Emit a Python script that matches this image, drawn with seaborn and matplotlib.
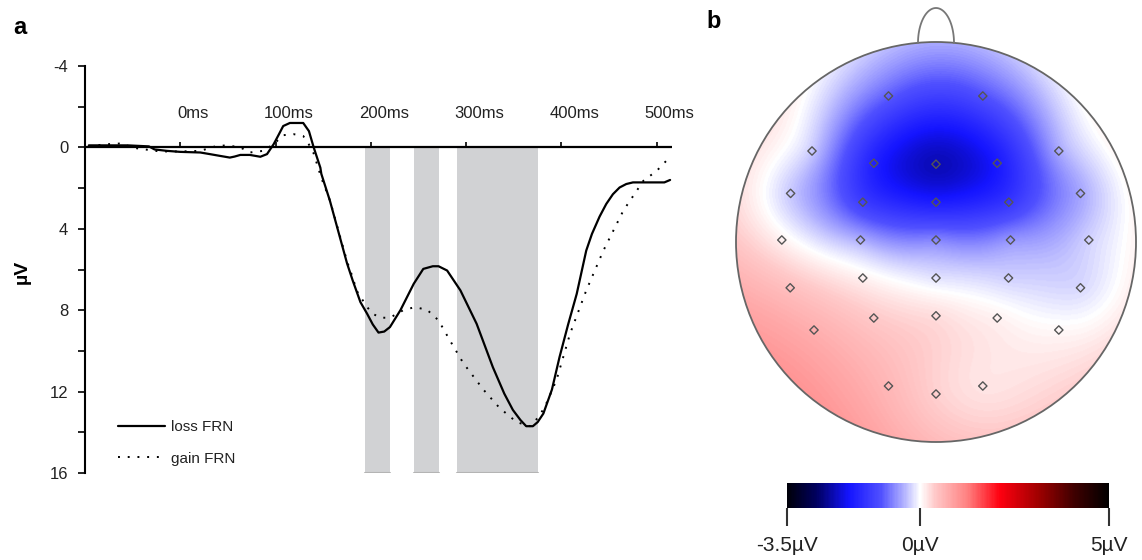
import numpy as np
import pandas as pd
import matplotlib
matplotlib.use("Agg")
import matplotlib.pyplot as plt
import seaborn as sns
from matplotlib.colors import LinearSegmentedColormap, Normalize
from matplotlib.patches import Circle
from matplotlib.lines import Line2D
import matplotlib.cm as cm

# ---------------- data ----------------
loss_time = [-96, -55, -33, -27, -14, 0, 21, 31, 42, 52, 57, 63, 73, 84, 91, 98, 103, 108, 115,
             129, 135, 140, 147, 148, 157, 175, 181, 189, 196, 202, 208, 214, 220, 231, 245, 255,
             265, 271, 280, 294, 311, 328, 340, 349, 357, 363, 370, 375, 381, 390, 398, 407, 416,
             426, 432, 440, 447, 454, 461, 468, 475, 508, 514]
loss_amp = [-0.1, -0.1, -0.05, 0.1, 0.17, 0.22, 0.25, 0.33, 0.42, 0.5, 0.45, 0.37, 0.37, 0.46,
            0.33, -0.16, -0.6, -1.05, -1.2, -1.2, -0.8, 0.0, 1.0, 1.3, 2.62, 5.7, 6.55, 7.6, 8.17,
            8.7, 9.1, 9.05, 8.83, 8.0, 6.7, 5.97, 5.84, 5.84, 6.05, 7.03, 8.67, 10.8, 12.1, 12.9,
            13.4, 13.7, 13.7, 13.5, 13.08, 11.9, 10.3, 8.7, 7.2, 5.07, 4.25, 3.4, 2.78, 2.3, 1.97,
            1.8, 1.72, 1.72, 1.6]
gain_time = [-96, -79, -60, -52, -37, -21, 0, 21, 38, 49, 63, 73, 87, 98, 108, 119, 129, 136,
             140, 148, 157, 175, 181, 185, 196, 203, 210, 220, 234, 246, 259, 271, 283, 297, 318,
             335, 353, 367, 377, 385, 395, 409, 426, 444, 465, 486, 500, 510]
gain_amp = [-0.05, -0.15, -0.2, 0.0, 0.1, 0.2, 0.2, 0.17, -0.07, -0.1, 0.0, 0.25, 0.17, -0.16,
            -0.6, -0.65, -0.56, -0.07, 0.3, 1.5, 2.6, 5.6, 6.4, 7.03, 7.85, 8.2, 8.37, 8.37, 8.0,
            7.85, 7.98, 8.5, 9.49, 10.6, 11.9, 12.8, 13.5, 13.7, 13.2, 12.5, 11.4, 9.16, 7.03,
            5.07, 3.1, 1.64, 1.15, 0.66]
conditions = ["loss FRN", "gain FRN"]
window_start = [194, 245, 290]
window_end = [220, 271, 375]
time_ticks = [0, 100, 200, 300, 400, 500]
time_labels = ["0ms", "100ms", "200ms", "300ms", "400ms", "500ms"]
amp_ticks = [-4, 0, 4, 8, 12, 16]
amp_minor = [-2, 2, 6, 10, 14]

# electrode layout (unit head radius) and scalp values (µV)
elec_x = [-0.2375, 0.234, -0.62, -0.311, 0.0, 0.306, 0.614, -0.727, -0.366, 0.0, 0.364, 0.7225,
          -0.771, -0.3775, 0.0, 0.3725, 0.764, -0.729, -0.366, 0.0, 0.3625, 0.7225,
          -0.61, -0.311, 0.0, 0.306, 0.614, -0.2375, 0.0, 0.234]
elec_y = [0.73, 0.73, 0.455, 0.394, 0.389, 0.394, 0.455, 0.243, 0.199, 0.199, 0.199, 0.243,
          0.01, 0.01, 0.01, 0.01, 0.01, -0.229, -0.18, -0.18, -0.18, -0.229,
          -0.44, -0.38, -0.369, -0.38, -0.44, -0.72, -0.76, -0.72]
elec_val = [-0.95, -1.05, -0.3, -1.7, -2.25, -1.8, -0.5, -0.3, -1.3, -1.75, -1.4, -0.5,
            0.1, -0.45, -0.7, -0.6, -0.25, 0.5, 0.1, -0.15, -0.25, -0.2,
            0.7, 0.4, 0.25, 0.1, 0.05, 0.6, 0.35, 0.2]
cbar_ticks = [-3.5, 0, 5]
cbar_labels = ["-3.5µV", "0µV", "5µV"]

# ---------------- style ----------------
sns.set_theme(style="white")
plt.rcParams["font.family"] = ["Liberation Sans", "DejaVu Sans"]
TXT = "#222222"

W, H = 1142, 560
fig = plt.figure(figsize=(W / 100, H / 100), dpi=100)


def fx(px):
    return px / W


def fy(py):
    return 1 - py / H


# ---------------- panel a ----------------
ax = fig.add_axes([fx(85), fy(473), 587 / W, 407 / H])
ax.set_xlim(-100, 516)
ax.set_ylim(16, -4)

for s, e in zip(window_start, window_end):
    ax.fill_between([s, e], 0, 16, color="#d1d2d4", lw=0, zorder=0)
    ax.plot([s, e], [16, 16], color="#b4b4b4", lw=1.5, zorder=1)

ax.axhline(0, color="black", lw=1.6, zorder=3)
ax.vlines(time_ticks, -0.27, 0, color="black", lw=1.2, zorder=3)
for t, lab in zip(time_ticks, time_labels):
    ax.text(t + 13.5, -1.65, lab, ha="center", va="center", fontsize=12, color=TXT)

sns.lineplot(x=loss_time, y=loss_amp, color="black", lw=1.6, ax=ax, zorder=4)
sns.lineplot(x=gain_time, y=gain_amp, color="black", lw=1.4, linestyle=(0, (1, 4)), ax=ax, zorder=4)

ax.set_xticks([])
ax.set_yticks(amp_ticks)
ax.set_yticks(amp_minor, minor=True)
ax.set_yticklabels([str(v) for v in amp_ticks])
ax.tick_params(axis="y", which="both", left=True, direction="out", length=5, width=1.2,
               color="black", labelsize=12, pad=7, labelcolor=TXT)
for side in ["top", "right", "bottom"]:
    ax.spines[side].set_visible(False)
ax.spines["left"].set_color("black")
ax.spines["left"].set_linewidth(1.5)
ax.set_xlabel("")
ax.set_ylabel("")

handles = [Line2D([], [], color="black", lw=1.6),
           Line2D([], [], color="black", lw=1.4, linestyle=(0, (1, 4)))]
leg = ax.legend(handles, conditions, loc="upper left", bbox_to_anchor=(fx(118), fy(420)),
                bbox_transform=fig.transFigure, frameon=False, fontsize=11, handlelength=3.1,
                handletextpad=0.35, labelspacing=1.15, borderpad=0, borderaxespad=0)
for t in leg.get_texts():
    t.set_color(TXT)

fig.text(fx(22), fy(272), "µV", rotation=90, fontsize=14, fontweight="bold",
         ha="center", va="center", color="black")
fig.text(fx(13), fy(27), "a", fontsize=17, fontweight="bold", ha="left", va="center", color="black")
fig.text(fx(706), fy(22), "b", fontsize=17, fontweight="bold", ha="left", va="center", color="black")

# ---------------- panel b ----------------
cmap = LinearSegmentedColormap.from_list("bwr_black", [
    (0.0, "#00000a"), (0.09, "#000060"), (0.19, "#1414ff"), (0.29, "#5050ff"),
    (0.36, "#b0b0ff"), (0.412, "#ffffff"), (0.46, "#ffc8c8"), (0.56, "#ff8080"),
    (0.66, "#ff0010"), (0.78, "#a00000"), (0.89, "#400000"), (1.0, "#000000")])
norm = Normalize(vmin=cbar_ticks[0], vmax=cbar_ticks[-1])

axb = fig.add_axes([fx(716), fy(462), 440 / W, 460 / H])
axb.set_xlim(-1.1, 1.1)
axb.set_ylim(-1.1, 1.2)
axb.axis("off")

# biharmonic spline surface through the electrode values
P = np.column_stack([elec_x, elec_y])
V = np.array(elec_val)


def green(r):
    with np.errstate(divide="ignore", invalid="ignore"):
        g = r ** 2 * (np.log(r) - 1)
    return np.where(r > 0, g, 0.0)


D = np.sqrt(((P[:, None, :] - P[None, :, :]) ** 2).sum(-1))
wts = np.linalg.solve(green(D), V)
gx = np.linspace(-1, 1, 401)
GX, GY = np.meshgrid(gx, gx)
G = np.column_stack([GX.ravel(), GY.ravel()])
R = np.sqrt(((G[:, None, :] - P[None, :, :]) ** 2).sum(-1))
Z = (green(R) @ wts).reshape(GX.shape)

head = Circle((0, 0), 1.0, transform=axb.transData)
im = axb.imshow(Z, extent=[-1, 1, -1, 1], origin="lower", cmap=cmap, norm=norm,
                interpolation="bilinear", zorder=1)
im.set_clip_path(head)
axb.add_patch(Circle((0, 0), 1.0, fill=False, ec="#666666", lw=1.3, zorder=3))
tt = np.linspace(0, np.pi, 60)
axb.plot(0.09 * np.cos(tt), 0.995 + 0.175 * np.sin(tt), color="#777777", lw=1.3, zorder=3)
axb.scatter(elec_x, elec_y, marker="D", s=18, facecolors="none", edgecolors="#555555",
            linewidths=1.0, zorder=4)

cax = fig.add_axes([fx(787.3), fy(508.3), 322 / W, 25 / H])
cb = fig.colorbar(cm.ScalarMappable(norm=norm, cmap=cmap), cax=cax, orientation="horizontal",
                  ticks=cbar_ticks)
cb.outline.set_visible(False)
cax.set_xticklabels(cbar_labels)
cax.tick_params(axis="x", bottom=True, direction="out", length=13, width=1.5, color="#333333",
                labelsize=15, pad=7, labelcolor=TXT)

fig.savefig("out.png", dpi=100)
